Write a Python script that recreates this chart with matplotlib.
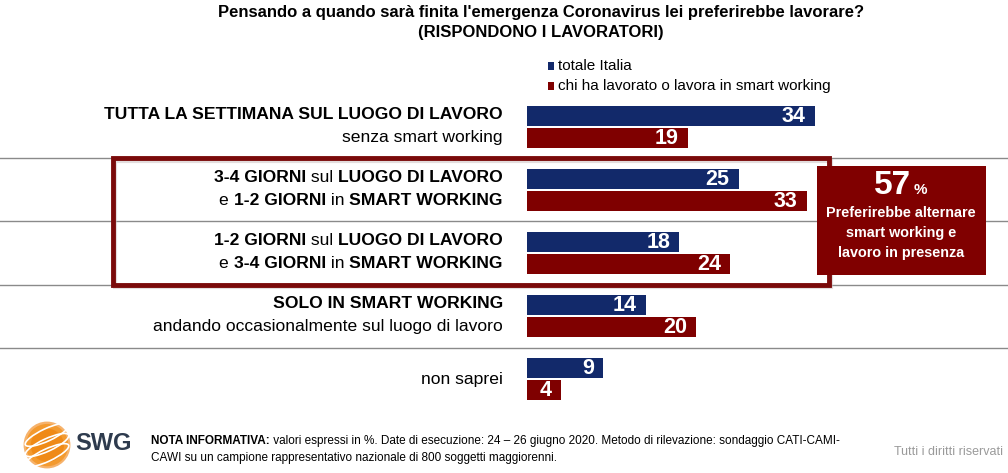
import numpy as np
import matplotlib
matplotlib.use("Agg")
import matplotlib.pyplot as plt
from matplotlib.patches import Rectangle, Circle, Ellipse

# data
labels_top = [
    [("TUTTA LA SETTIMANA SUL LUOGO DI LAVORO", "bold")],
    [("3-4 GIORNI", "bold"), (" sul ", "normal"), ("LUOGO DI LAVORO", "bold")],
    [("1-2 GIORNI", "bold"), (" sul ", "normal"), ("LUOGO DI LAVORO", "bold")],
    [("SOLO IN SMART WORKING", "bold")],
    [],
]
labels_bottom = [
    [("senza smart working", "normal")],
    [("e ", "normal"), ("1-2 GIORNI", "bold"), (" in ", "normal"), ("SMART WORKING", "bold")],
    [("e ", "normal"), ("3-4 GIORNI", "bold"), (" in ", "normal"), ("SMART WORKING", "bold")],
    [("andando occasionalmente sul luogo di lavoro", "normal")],
    [("non saprei", "normal")],
]
totale = [34, 25, 18, 14, 9]
smart = [19, 33, 24, 20, 4]
series_names = ["totale Italia", "chi ha lavorato o lavora in smart working"]
callout_pct = "57"
callout_lines = ["Preferirebbe alternare", "smart working e", "lavoro in presenza"]

BLUE = "#12296a"
RED = "#7f0000"
SANS = ["Liberation Sans", "DejaVu Sans"]

W, H = 1008, 473
fig = plt.figure(figsize=(W / 100, H / 100), dpi=100)
ax = fig.add_axes([0, 0, 1, 1])
ax.axis("off")

# pixel geometry -> data scales
x0_px, px_per_unit = 527, 8.47
y0_px, px_per_row = 127, 63
ax.set_xlim(-x0_px / px_per_unit, (W - x0_px) / px_per_unit)
ax.set_ylim((H - y0_px) / px_per_row, -y0_px / px_per_row)

n = len(totale)
idx = np.arange(n)
bh = 0.325
off = 0.172
ax.barh(idx - off, totale, height=bh, color=BLUE, zorder=3)
ax.barh(idx + off, smart, height=bh, color=RED, zorder=3)

for i in range(n):
    for v, y in ((totale[i], i - off), (smart[i], i + off)):
        ax.text(v - 1.1, y + 0.01, str(v), ha="right", va="center", color="white",
                fontsize=15.5, fontweight="bold", family=SANS, zorder=4)

# separators
for i in range(n - 1):
    ax.axhline(i + 0.5, color="#8a8a8a", lw=1.0, zorder=1)


def draw_line(pieces, x, y, size):
    prev = None
    for txt, wt in reversed(pieces):
        if prev is None:
            prev = ax.text(x, y, txt, ha="right", va="center", fontsize=size,
                           fontweight=wt, family=SANS, color="black", zorder=5)
        else:
            prev = ax.annotate(txt, xy=(0, 0), xycoords=prev, ha="right", va="bottom",
                               fontsize=size, fontweight=wt, family=SANS, color="black",
                               zorder=5)


lab_x = -24 / px_per_unit
for i in range(n):
    if labels_top[i]:
        draw_line(labels_top[i], lab_x, i - 0.2, 12.6)
        draw_line(labels_bottom[i], lab_x, i + 0.16, 12.6)
    else:
        draw_line(labels_bottom[i], lab_x, i, 12.6)

# highlight frame around the two mixed options (with a soft shadow)
fx, fw = -414 / px_per_unit, (829 - 113) / px_per_unit
ax.add_patch(Rectangle((fx + 0.25, 0.535), fw, 2.0, fill=False, edgecolor="#c8bcbc",
                       lw=3, alpha=0.5, zorder=5.5))
ax.add_patch(Rectangle((fx, 0.5), fw, 2.0, fill=False, edgecolor="#7a0a0a",
                       lw=3.5, zorder=6))

# callout box
fig.patches.append(Rectangle((817 / W, 1 - 275 / H), 169 / W, 109 / H,
                             transform=fig.transFigure, facecolor="#800000",
                             edgecolor="none", zorder=7))
fig.text(911 / W, 1 - 185 / H, callout_pct, ha="right", va="center", color="white",
         fontsize=24, fontweight="bold", family=SANS, zorder=8)
fig.text(914 / W, 1 - 190 / H, "%", ha="left", va="center", color="white",
         fontsize=11, fontweight="bold", family=SANS, zorder=8)
for k, line in enumerate(callout_lines):
    fig.text(901 / W, 1 - (213 + 20 * k) / H, line, ha="center", va="center",
             color="white", fontsize=10.4, fontweight="bold", family=SANS, zorder=8)

# title
fig.text(541 / W, 1 - 12 / H,
         "Pensando a quando sarà finita l'emergenza Coronavirus lei preferirebbe lavorare?",
         ha="center", va="center", fontsize=12, fontweight="bold", family=SANS)
fig.text(541 / W, 1 - 32 / H, "(RISPONDONO I LAVORATORI)", ha="center", va="center",
         fontsize=12, fontweight="bold", family=SANS)

# legend
for k, (name, col) in enumerate(zip(series_names, [BLUE, RED])):
    yc = 1 - (66 + 20 * k) / H
    fig.patches.append(Rectangle((548 / W, yc - 4 / H), 6 / W, 8 / H,
                                 transform=fig.transFigure, facecolor=col, edgecolor="none"))
    fig.text(558 / W, yc, name, ha="left", va="center", fontsize=11, family=SANS)

# logo
lax = fig.add_axes([22 / W, 1 - 470 / H, 50 / W, 50 / H])
lax.set_xlim(-1.1, 1.1)
lax.set_ylim(-1.1, 1.1)
lax.set_aspect("equal")
lax.axis("off")
for r, c in [(1.0, "#f6b26b"), (0.9, "#f39a2f"), (0.7, "#ef8a17")]:
    lax.add_patch(Circle((0.05 * (1 - r), -0.05 * (1 - r)), r, color=c))
for t in [-0.45, 0.0, 0.45]:
    lax.add_patch(Ellipse((0, t), 2.1, 0.55, angle=25, fill=False, edgecolor="white", lw=1.2))
fig.text(75 / W, 1 - 443 / H, "SWG", ha="left", va="center", fontsize=17,
         fontweight="bold", family=SANS, color="#2e3b4e")

# footnote
nota = fig.text(151 / W, 1 - 441 / H, "NOTA INFORMATIVA:", ha="left", va="center",
                fontsize=8.5, fontweight="bold", family=SANS)
ax.annotate(" valori espressi in %. Date di esecuzione: 24 \u2013 26 giugno 2020. "
            "Metodo di rilevazione: sondaggio CATI-CAMI-",
            xy=(1, 0), xycoords=nota, ha="left", va="bottom", fontsize=8.5, family=SANS)
fig.text(151 / W, 1 - 458 / H,
         "CAWI su un campione rappresentativo nazionale di 800 soggetti maggiorenni.",
         ha="left", va="center", fontsize=8.5, family=SANS)
fig.text(1003 / W, 1 - 452 / H, "Tutti i diritti riservati", ha="right", va="center",
         fontsize=9, family=SANS, color="#9a9a9a")

fig.savefig("out.png", dpi=100, facecolor="white")
